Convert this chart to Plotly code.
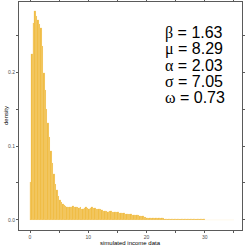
import plotly.graph_objects as go

# histogram of simulated income data (density per bin, bin width 0.25 starting at 0)
bin_start = 0.0
bin_width = 0.25
density = [
    0.051, 0.226, 0.268, 0.284, 0.277, 0.272, 0.266, 0.261, 0.236, 0.200, 0.176, 0.150,
    0.131, 0.113, 0.094, 0.077, 0.062, 0.049, 0.040, 0.032, 0.027, 0.024, 0.021, 0.020,
    0.019, 0.018, 0.018, 0.018, 0.018, 0.019, 0.018, 0.017, 0.017, 0.016, 0.017, 0.015,
    0.015, 0.016, 0.017, 0.016, 0.015, 0.016, 0.017, 0.016, 0.016, 0.015, 0.015, 0.014,
    0.014, 0.013, 0.012, 0.012, 0.012, 0.011, 0.012, 0.012, 0.011, 0.011, 0.0105, 0.010,
    0.010, 0.0095, 0.009, 0.0095, 0.009, 0.0085, 0.008, 0.008, 0.0075, 0.0075, 0.007, 0.0065,
    0.0065, 0.006, 0.006, 0.0055, 0.005, 0.0045, 0.004, 0.0035, 0.003, 0.003, 0.0025, 0.0025,
    0.0025, 0.0028, 0.0028, 0.0025, 0.0025, 0.0022, 0.002, 0.0018, 0.0015, 0.0012, 0.001, 0.0009,
    0.0008, 0.0008, 0.0007, 0.0007, 0.0007, 0.0006, 0.0006, 0.0006, 0.0006, 0.0005, 0.0005, 0.0005,
    0.0005, 0.0005, 0.0005, 0.0004, 0.0004, 0.0004, 0.0004, 0.0004, 0.0004, 0.0004, 0.0004, 0.0004,
    0.0003, 0.0003, 0.0003, 0.0003, 0.0003, 0.0003, 0.0003, 0.0003, 0.0003, 0.0003, 0.0003, 0.0003,
    0.0003, 0.0003, 0.0003, 0.0003, 0.0003, 0.0003, 0.0003, 0.0003,
]
x_centers = [bin_start + bin_width * (i + 0.5) for i in range(len(density))]

x_tickvals = [0, 5, 10, 15, 20, 25, 30, 35]
x_ticktext = ["0", "", "10", "", "20", "", "30", ""]
y_tickvals = [0.0, 0.05, 0.1, 0.15, 0.2, 0.25]
y_ticktext = ["0.0", "", "0.1", "", "0.2", ""]

param_symbols = ["β", "μ", "α", "σ", "ω"]
param_values = ["1.63", "8.29", "2.03", "7.05", "0.73"]

fig = go.Figure()
fig.add_trace(go.Bar(
    x=x_centers, y=density, width=bin_width, hoverinfo="skip",
    marker=dict(color="rgb(240,188,66)",
                line=dict(color="rgba(255,230,170,0.6)", width=0.2)),
))

axis_common = dict(showgrid=False, zeroline=False, showline=True, linecolor="#5a5a5a",
                   linewidth=1, mirror="ticks", ticks="outside", ticklen=2,
                   tickcolor="#5a5a5a", tickwidth=0.8, automargin=False,
                   tickfont=dict(family="Liberation Sans", size=5, color="#4d4d4d"))

fig.update_xaxes(range=[-1.89, 36.4], tickvals=x_tickvals, ticktext=x_ticktext,
                 **axis_common)
fig.update_yaxes(range=[-0.0139, 0.296], tickvals=y_tickvals, ticktext=y_ticktext,
                 **axis_common)

fig.add_annotation(text="simulated income data", xref="paper", yref="paper",
                   x=0.5, y=0, yshift=-13, xanchor="center", yanchor="middle",
                   showarrow=False,
                   font=dict(family="Liberation Sans", size=6, color="#000"))
fig.add_annotation(text="density", xref="paper", yref="paper", textangle=-90,
                   x=0, xshift=-13, y=0.5, xanchor="center", yanchor="middle",
                   showarrow=False,
                   font=dict(family="Liberation Sans", size=6, color="#000"))

line_y0 = 0.862
line_step = 0.07
for i, (s, v) in enumerate(zip(param_symbols, param_values)):
    fig.add_annotation(
        text=f"<span style='font-family:Liberation Serif'>{s}</span> = {v}",
        xref="paper", yref="paper", x=0.646, y=line_y0 - i * line_step,
        xanchor="left", yanchor="middle", showarrow=False,
        font=dict(family="Liberation Sans", size=16, color="#000"))

fig.update_layout(width=245, height=245, margin=dict(l=19, r=3, t=2, b=15),
                  plot_bgcolor="white", paper_bgcolor="white", showlegend=False,
                  bargap=0)
fig.write_html("out.html", config={"displayModeBar": False},
               post_script="document.body.style.margin='0';")
